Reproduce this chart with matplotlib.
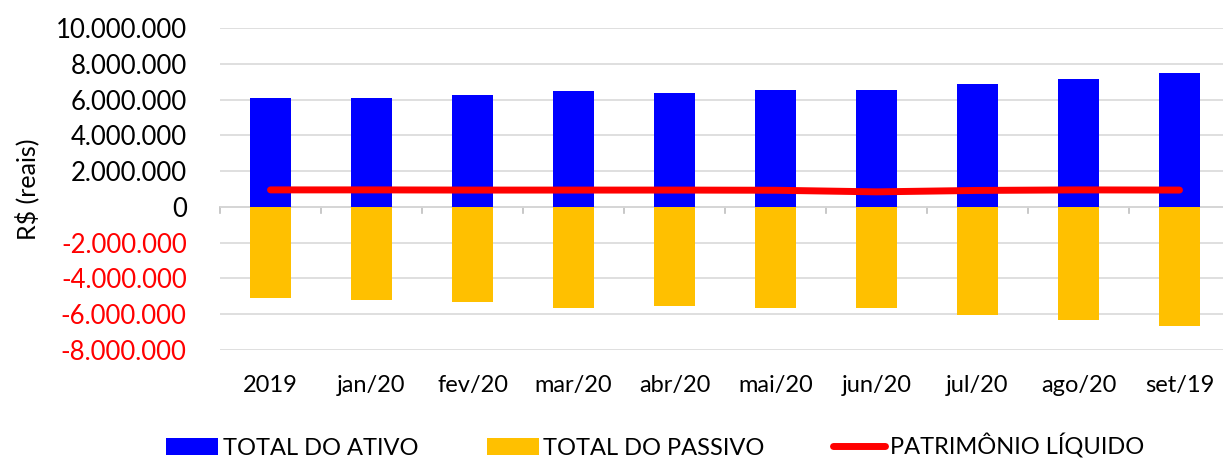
import matplotlib
matplotlib.use("Agg")
import matplotlib.pyplot as plt
from matplotlib.ticker import FuncFormatter
from matplotlib.patches import Patch
from matplotlib.lines import Line2D

categories = ["2019", "jan/20", "fev/20", "mar/20", "abr/20", "mai/20",
              "jun/20", "jul/20", "ago/20", "set/19"]
total_ativo = [6110000, 6110000, 6260000, 6460000, 6390000, 6540000,
               6540000, 6870000, 7130000, 7510000]
total_passivo = [-5120000, -5190000, -5320000, -5640000, -5550000, -5640000,
                 -5640000, -6070000, -6350000, -6650000]
patrimonio = [950000, 950000, 940000, 940000, 940000, 930000,
              840000, 920000, 950000, 940000]
yticks = list(range(-8000000, 10000001, 2000000))

plt.rcParams['font.family'] = ['Lato', 'DejaVu Sans']

fig = plt.figure(figsize=(12.23, 4.61), dpi=100)
ax = fig.add_axes([220/1223, 1-350/461, 1010/1223, (350-28)/461])

x = list(range(len(categories)))
ax.bar(x, total_ativo, width=0.4, color="#0000FF", zorder=2)
ax.bar(x, total_passivo, width=0.4, color="#FFC000", zorder=2)
ax.plot(x, patrimonio, color="#FF0000", linewidth=5, solid_capstyle="round", zorder=3)

ax.set_xlim(-0.5, 9.5)
ax.set_ylim(-8000000, 10000000)
ax.set_yticks(yticks)

def fmt(v, pos):
    v = int(round(v))
    s = f"{abs(v):,}".replace(",", ".")
    return ("-" if v < 0 else "") + s

ax.yaxis.set_major_formatter(FuncFormatter(fmt))
for lbl, v in zip(ax.get_yticklabels(), yticks):
    lbl.set_color("red" if v < 0 else "black")
ax.tick_params(axis="y", length=0, labelsize=18.5, pad=24)
ax.grid(axis="y", color="#D9D9D9", linewidth=1.2, zorder=0)
for s in ax.spines.values():
    s.set_visible(False)

ax.set_xticks(x)
ax.set_xticklabels(categories)
ax.tick_params(axis="x", length=0, labelsize=17, pad=18)

ax.axhline(0, color="#BFBFBF", linewidth=1.2, zorder=1)
for b in [i - 0.5 for i in range(len(categories) + 1)]:
    ax.plot([b, b], [0, -350000], color="#BFBFBF", linewidth=1.2, zorder=1, clip_on=False)

ax.set_ylabel("R$ (reais)", fontsize=18, labelpad=12)

handles = [Patch(facecolor="#0000FF", label="TOTAL DO ATIVO"),
           Patch(facecolor="#FFC000", label="TOTAL DO PASSIVO"),
           Line2D([0], [0], color="#FF0000", linewidth=5, solid_capstyle="round",
                  label="PATRIMÔNIO LÍQUIDO")]
fig.legend(handles=handles, loc="center", bbox_to_anchor=(655/1223, 1-446/461),
           ncol=3, frameon=False, fontsize=17, handlelength=2.2, handleheight=0.7,
           handletextpad=0.2, columnspacing=2.9)

fig.savefig("out.png", dpi=100)
